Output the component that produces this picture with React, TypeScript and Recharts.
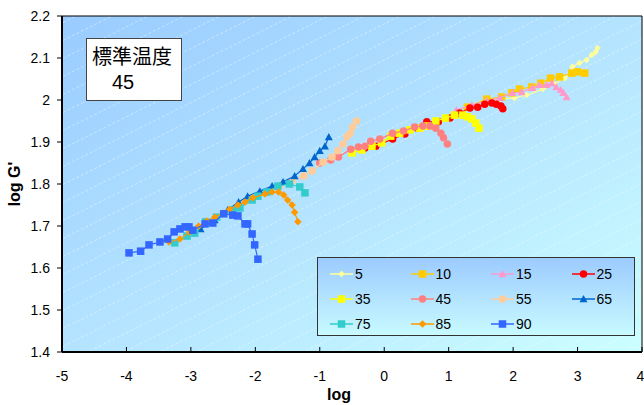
import React from 'react';
import { ScatterChart, Scatter, XAxis, YAxis, CartesianGrid, ReferenceArea, Legend } from 'recharts';

// reference temperatures (legend order = drawing order)
const temps = ['5', '10', '15', '25', '35', '45', '55', '65', '75', '85', '90'];

// [log shift, log G'], one list per temperature
const t5 = [[1.56, 1.995], [1.79, 2.002], [2.02, 2.005], [2.21, 2.012], [2.46, 2.026], [2.64, 2.038], [2.80, 2.052], [2.92, 2.079], [3.03, 2.088], [3.14, 2.095], [3.22, 2.107], [3.28, 2.114], [3.31, 2.124]];
const t10 = [[1.29, 1.983], [1.59, 2.002], [1.82, 2.007], [1.98, 2.017], [2.10, 2.026], [2.29, 2.031], [2.43, 2.040], [2.58, 2.052], [2.72, 2.055], [2.91, 2.064], [3.00, 2.067], [3.11, 2.064]];
const t15 = [[1.12, 1.976], [1.36, 1.988], [1.59, 1.998], [1.79, 2.005], [1.99, 2.017], [2.13, 2.019], [2.30, 2.029], [2.41, 2.036], [2.52, 2.036], [2.60, 2.040], [2.67, 2.031], [2.74, 2.024], [2.78, 2.017], [2.83, 2.007]];
const t25 = [[-0.30, 1.886], [-0.13, 1.890], [0.13, 1.907], [0.32, 1.919], [0.52, 1.933], [0.66, 1.948], [0.84, 1.948], [1.02, 1.957], [1.17, 1.969], [1.33, 1.981], [1.45, 1.983], [1.56, 1.990], [1.67, 1.993], [1.74, 1.990], [1.81, 1.986], [1.84, 1.979]];
const t35 = [[-0.50, 1.874], [-0.35, 1.881], [-0.19, 1.890], [-0.04, 1.898], [0.10, 1.914], [0.24, 1.921], [0.40, 1.929], [0.55, 1.933], [0.67, 1.938], [0.80, 1.950], [0.95, 1.957], [1.09, 1.964], [1.22, 1.964], [1.29, 1.960], [1.36, 1.955], [1.42, 1.945], [1.47, 1.933]];
const t45 = [[-1.00, 1.850], [-0.83, 1.857], [-0.71, 1.864], [-0.52, 1.883], [-0.40, 1.888], [-0.30, 1.890], [-0.21, 1.902], [-0.07, 1.907], [0.13, 1.921], [0.30, 1.926], [0.47, 1.936], [0.60, 1.938], [0.71, 1.938], [0.80, 1.933], [0.88, 1.921], [0.92, 1.910], [0.98, 1.895]];
const t55 = [[-1.62, 1.795], [-1.43, 1.807], [-1.25, 1.819], [-1.12, 1.831], [-0.95, 1.852], [-0.81, 1.864], [-0.72, 1.879], [-0.64, 1.895], [-0.58, 1.912], [-0.53, 1.921], [-0.49, 1.936], [-0.43, 1.950]];
const t65 = [[-2.85, 1.693], [-2.63, 1.714], [-2.43, 1.738], [-2.26, 1.757], [-2.12, 1.771], [-1.93, 1.783], [-1.74, 1.795], [-1.57, 1.805], [-1.39, 1.819], [-1.26, 1.836], [-1.16, 1.850], [-1.08, 1.864], [-1.00, 1.879], [-0.92, 1.890], [-0.86, 1.912]];
const t75 = [[-3.25, 1.660], [-3.06, 1.676], [-2.94, 1.683], [-2.77, 1.710], [-2.60, 1.721], [-2.36, 1.738], [-2.24, 1.743], [-2.05, 1.762], [-1.96, 1.771], [-1.82, 1.781], [-1.65, 1.795], [-1.47, 1.800], [-1.31, 1.793], [-1.23, 1.779]];
const t85 = [[-3.34, 1.662], [-3.17, 1.669], [-3.02, 1.686], [-2.88, 1.700], [-2.75, 1.712], [-2.63, 1.721], [-2.50, 1.731], [-2.40, 1.740], [-2.27, 1.750], [-2.16, 1.757], [-2.04, 1.767], [-1.85, 1.776], [-1.74, 1.781], [-1.64, 1.781], [-1.56, 1.774], [-1.50, 1.762], [-1.43, 1.750], [-1.39, 1.733], [-1.34, 1.710]];
const t90 = [[-3.96, 1.636], [-3.78, 1.640], [-3.65, 1.655], [-3.48, 1.662], [-3.36, 1.669], [-3.26, 1.686], [-3.17, 1.693], [-3.09, 1.698], [-3.03, 1.698], [-2.97, 1.690], [-2.78, 1.705], [-2.66, 1.707], [-2.49, 1.729], [-2.35, 1.726], [-2.27, 1.724], [-2.16, 1.705], [-2.12, 1.705], [-2.05, 1.681], [-2.01, 1.655], [-1.96, 1.621]];

const seriesData = [t5, t10, t15, t25, t35, t45, t55, t65, t75, t85, t90];

const xTicks = [-5, -4, -3, -2, -1, 0, 1, 2, 3, 4];
const yTicks = [1.4, 1.5, 1.6, 1.7, 1.8, 1.9, 2.0, 2.1, 2.2];

const annotationTitle = '標準温度';
const annotationValue = '45';

// marker look per series
const looks = [
  { color: '#FFFF99', kind: 'diamond', size: 6.5 },
  { color: '#FFCC00', kind: 'square', size: 7.5 },
  { color: '#FF99CC', kind: 'triangle', size: 8 },
  { color: '#FF0000', kind: 'circle', size: 7.5 },
  { color: '#FFFF00', kind: 'square', size: 7.5 },
  { color: '#FF8080', kind: 'circle', size: 7.5 },
  { color: '#FFCC99', kind: 'circle', size: 7.5 },
  { color: '#0066CC', kind: 'triangle', size: 8 },
  { color: '#33CCCC', kind: 'square', size: 7.5 },
  { color: '#FF9900', kind: 'diamond', size: 7.5 },
  { color: '#3366FF', kind: 'square', size: 7.5 },
];

const FONT = '"Liberation Sans", Arial, sans-serif';

function Marker({ kind, size, color, cx, cy }: any) {
  const h = size / 2;
  if (kind === 'square') return <rect x={cx - h} y={cy - h} width={size} height={size} fill={color} />;
  if (kind === 'circle') return <circle cx={cx} cy={cy} r={h} fill={color} />;
  if (kind === 'triangle')
    return <polygon points={`${cx},${cy - h} ${cx + h},${cy + h * 0.8} ${cx - h},${cy + h * 0.8}`} fill={color} />;
  return <polygon points={`${cx},${cy - h} ${cx + h},${cy} ${cx},${cy + h} ${cx - h},${cy}`} fill={color} />;
}

function LegendBox() {
  return (
    <div
      style={{
        width: 318,
        height: 79,
        boxSizing: 'border-box',
        border: '1.5px solid #333',
        background: 'linear-gradient(#9CCBFF, #C8FAFF)',
        padding: '3px 0 0 12px',
        display: 'grid',
        gridTemplateColumns: 'repeat(4, 80.5px)',
        gridAutoRows: '25px',
        fontFamily: FONT,
        fontSize: 14,
        color: '#000',
      }}
    >
      {temps.map((t, i) => (
        <div key={t} style={{ display: 'flex', alignItems: 'center' }}>
          <svg width={24} height={12} style={{ marginRight: 1 }}>
            <line x1={0} y1={6} x2={23} y2={6} stroke={looks[i].color} strokeWidth={1.5} />
            <Marker {...looks[i]} cx={11.5} cy={6} />
          </svg>
          <span>{t}</span>
        </div>
      ))}
    </div>
  );
}

export default function App() {
  return (
    <div style={{ position: 'absolute', left: 0, top: 0, width: 644, height: 405, fontFamily: FONT }}>
      <ScatterChart width={644} height={405} margin={{ top: 16, right: 2, bottom: 0, left: 0 }}>
        <defs>
          <linearGradient id="bg" x1="0" y1="0" x2="1" y2="1">
            <stop offset="0%" stopColor="#99CBFF" />
            <stop offset="55%" stopColor="#B6E6FF" />
            <stop offset="100%" stopColor="#CCFFFF" />
          </linearGradient>
          <pattern id="hatch" patternUnits="userSpaceOnUse" width="36" height="18">
            <line x1="0" y1="18" x2="36" y2="0" stroke="#fff" strokeWidth="0.8" strokeDasharray="3 2" strokeOpacity="0.5" />
          </pattern>
        </defs>
        <CartesianGrid fill="url(#bg)" horizontal={false} vertical={false} />
        <CartesianGrid fill="url(#hatch)" horizontal={false} vertical={false} />
        <XAxis
          type="number"
          dataKey="x"
          domain={[-5, 4]}
          ticks={xTicks}
          allowDataOverflow
          height={53}
          axisLine={{ stroke: '#000', strokeWidth: 2 }}
          tickLine={{ stroke: '#000' }}
          tickSize={-5}
          tickMargin={24}
          tick={{ fill: '#000', fontSize: 14, fontFamily: FONT }}
          label={({ viewBox }: any) => (
            <text x={viewBox.x + viewBox.width / 2 - 13} y={viewBox.y + 48} textAnchor="middle" fontSize={16} fontWeight="bold" fontFamily={FONT} fill="#000">
              log
            </text>
          )}
        />
        <YAxis
          type="number"
          dataKey="y"
          domain={[1.4, 2.2]}
          ticks={yTicks}
          allowDataOverflow
          width={62}
          axisLine={{ stroke: '#000', strokeWidth: 2 }}
          tickLine={{ stroke: '#000' }}
          tickSize={5}
          tickMargin={7}
          tickFormatter={(v: number) => String(Number(v.toFixed(1)))}
          tick={{ fill: '#000', fontSize: 14, fontFamily: FONT }}
          label={({ viewBox }: any) => (
            <text x={14} y={viewBox.y + viewBox.height / 2} transform={`rotate(-90 14 ${viewBox.y + viewBox.height / 2})`} textAnchor="middle" dominantBaseline="central" fontSize={16} fontWeight="bold" fontFamily={FONT} fill="#000">
              log G'
            </text>
          )}
        />
        <ReferenceArea x1={-5} x2={4} y1={1.4} y2={2.2} fill="none" stroke="#000" strokeWidth={1} />
        {seriesData.map((pts, i) => (
          <Scatter
            key={temps[i]}
            name={temps[i]}
            data={pts.map(([x, y]) => ({ x, y }))}
            line={{ stroke: looks[i].color, strokeWidth: 1.2 }}
            lineType="joint"
            shape={(p: any) => <Marker {...looks[i]} cx={p.cx} cy={p.cy} />}
            isAnimationActive={false}
          />
        ))}
        <Legend
          layout="horizontal"
          verticalAlign="middle"
          align="center"
          content={() => <LegendBox />}
          wrapperStyle={{ position: 'absolute', left: 317, top: 257, width: 318, height: 79 }}
        />
      </ScatterChart>
      <div
        style={{
          position: 'absolute',
          left: 86,
          top: 38,
          width: 96,
          height: 63,
          boxSizing: 'border-box',
          border: '1px solid #444',
          background: '#fff',
          fontFamily: '"Noto Sans CJK JP", ' + FONT,
          fontSize: 20,
          lineHeight: '27px',
          padding: '3px 0 0 5px',
          color: '#000',
        }}
      >
        <div>{annotationTitle}</div>
        <div style={{ paddingLeft: 20, fontFamily: FONT }}>{annotationValue}</div>
      </div>
    </div>
  );
}
